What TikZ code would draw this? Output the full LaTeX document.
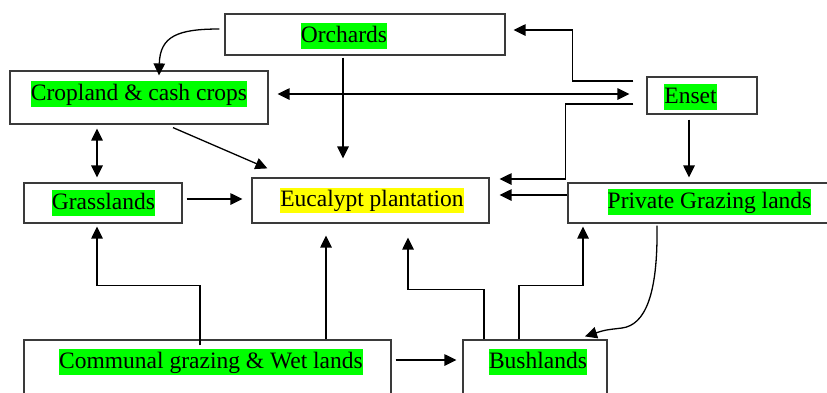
\documentclass[tikz,border=0pt]{standalone}
\usepackage{fontspec}
\setmainfont{Liberation Serif}
\usetikzlibrary{arrows.meta,calc}
\definecolor{hlgreen}{HTML}{00FF00}
\definecolor{hlyellow}{HTML}{FFFF00}
\definecolor{boxline}{HTML}{3A3A3A}
\begin{document}
\begin{tikzpicture}[x=1pt,y=1pt,
  box/.style={draw=boxline,line width=1.2pt,rectangle,inner sep=0pt,fill=white},
  hl/.style={fill=hlgreen,inner xsep=0pt,inner ysep=0.6pt,text height=18.5pt,text depth=6pt,
     font=\fontsize{23.5}{28}\selectfont},
  hly/.style={hl,fill=hlyellow},
  conn/.style={line width=1.3pt,-{Triangle[length=12pt,width=11.5pt]}},
  dconn/.style={line width=1.3pt,{Triangle[length=12pt,width=11.5pt]}-{Triangle[length=12pt,width=11.5pt]}}]
\useasboundingbox (0,0) rectangle (827,-392);
% boxes
\node[box,minimum width=280,minimum height=41] (orch) at (365,-34.5) {};
\node[box,minimum width=258,minimum height=53] (crop) at (139,-97.5) {};
\node[box,minimum width=110,minimum height=37] (enset) at (702,-95.5) {};
\node[box,minimum width=158,minimum height=40] (grass) at (103,-203) {};
\node[box,minimum width=237,minimum height=45] (euc) at (370.5,-200.5) {};
\node[box,minimum width=282,minimum height=40] (priv) at (709,-203) {};
\node[box,minimum width=367,minimum height=70] (comm) at (207.5,-375) {};
\node[box,minimum width=144,minimum height=70] (bush) at (535,-375) {};
% texts
\node[hl] (torch) at (344,-36) {Orchards};
\node[hl] (tcrop) at (139,-94) {Cropland \& cash crops};
\node[hl] (tenset) at (690.5,-97) {Enset};
\node[hl] (tgrass) at (103.5,-203) {Grasslands};
\node[hly] (teuc) at (372,-200.5) {Eucalypt plantation};
\node[hl] (tpriv) at (709.5,-202) {Private Grazing lands};
\node[hl] (tcomm) at (211,-362) {Communal grazing \& Wet lands};
\node[hl] (tbush) at (538,-362) {Bushlands};
% connectors
\draw[conn] ([shift={(-5,5.5)}]orch.west) .. controls (178,-29) and (160,-36) .. ([shift={(20,-5)}]crop.north);
\draw[conn] ([shift={(-22,-2)}]orch.south) -- ([shift={(-27.5,19)}]euc.north);
\draw[conn] ([shift={(-13,14.5)}]enset.west) -- ++(-61,0) |- ([shift={(8,4.5)}]orch.east);
\draw[dconn] ([shift={(9,3.5)}]crop.east) -- ([shift={(-17,1.5)}]enset.west);
\draw[conn] ([shift={(-13,-8.5)}]enset.west) -- ++(-68,0) |- ([shift={(10,21.5)}]euc.east);
\draw[conn] ([shift={(-13,-5)}]enset.south) -- ([shift={(-20,5)}]priv.north);
\draw[conn] ([shift={(0,8)}]priv.west) -- ([shift={(10,5.5)}]euc.east);
\draw[dconn] ([shift={(-42,-4)}]crop.south) -- ([shift={(-6,5)}]grass.north);
\draw[conn] ([shift={(34,-3)}]crop.south) -- ([shift={(16,9)}]euc.north west);
\draw[conn] ([shift={(4,4)}]grass.east) -- ([shift={(-9,1.5)}]euc.west);
\draw[conn] ([shift={(-7.5,-6)}]comm.north) -- ++(0,60) -| ([shift={(-6,-3)}]grass.south);
\draw[conn] ([shift={(118.5,0)}]comm.north) -- ([shift={(-44.5,-12)}]euc.south);
\draw[conn] ([shift={(4,15)}]comm.east) -- ([shift={(-6,15)}]bush.west);
\draw[conn] ([shift={(-51,0)}]bush.north) -- ++(0,50) -| ([shift={(37.5,-14)}]euc.south);
\draw[conn] ([shift={(-16,0)}]bush.north) -- ++(0,54) -| ([shift={(-126,-3)}]priv.south);
\draw[conn] ([shift={(-52,-2)}]priv.south) .. controls (658,-295) and (645,-325) .. (622,-328) .. controls (605,-330) .. ([shift={(50,3)}]bush.north);
\end{tikzpicture}
\end{document}
